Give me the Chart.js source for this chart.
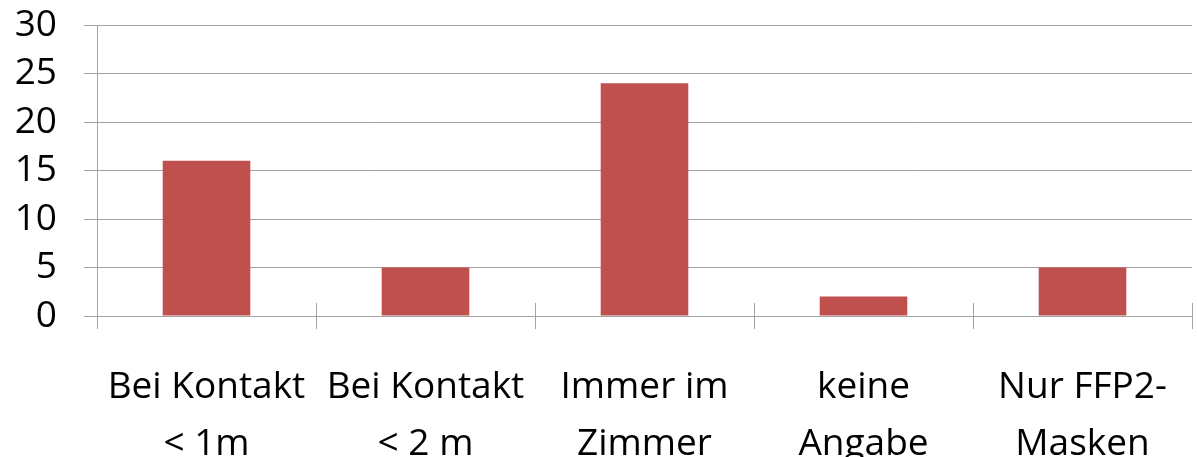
<!DOCTYPE html>
<html>
<head>
<meta charset="utf-8">
<script src="https://cdn.jsdelivr.net/npm/chart.js@4"></script>
<style>
html,body{margin:0;padding:0;background:#fff;}
canvas{display:block;}
</style>
</head>
<body>
<canvas id="c" width="1197" height="457"></canvas>
<script>
const categories = [
  ["Bei Kontakt", "< 1m"],
  ["Bei Kontakt", "< 2 m"],
  ["Immer im", "Zimmer"],
  ["keine", "Angabe"],
  ["Nur FFP2-", "Masken"]
];
const values = [16, 5, 24, 2, 5];
const yMin = 0, yMax = 30, yStep = 5;

const GRID = '#a3a3a3';
const FONT = "'Open Sans', sans-serif";

const crossTicks = {
  id: 'crossTicks',
  afterDraw(chart) {
    const xs = chart.scales.x;
    const ctx = chart.ctx;
    const n = categories.length;
    const w = (xs.right - xs.left) / n;
    ctx.save();
    ctx.strokeStyle = GRID;
    ctx.lineWidth = 1;
    for (let i = 0; i <= n; i++) {
      const x = Math.round(xs.left + i * w) + 0.5;
      ctx.beginPath();
      ctx.moveTo(x, xs.top - 13);
      ctx.lineTo(x, xs.top);
      ctx.stroke();
    }
    ctx.restore();
  }
};

new Chart(document.getElementById('c'), {
  type: 'bar',
  data: {
    labels: categories,
    datasets: [{
      data: values,
      backgroundColor: '#C0504D',
      borderWidth: 0,
      categoryPercentage: 1,
      barPercentage: 0.4
    }]
  },
  options: {
    responsive: false,
    devicePixelRatio: 1,
    animation: false,
    layout: { padding: { top: 25, right: 5, left: 0, bottom: 0 } },
    plugins: { legend: { display: false }, tooltip: { enabled: false } },
    scales: {
      y: {
        min: yMin, max: yMax,
        ticks: { stepSize: yStep, autoSkip: false, color: '#000', font: { family: FONT, size: 37 }, padding: 27 },
        grid: { color: GRID, lineWidth: 1, tickLength: 13 },
        border: { color: GRID, width: 1 },
        afterFit(scale) { scale.width = 97; scale.paddingTop = 0; scale.paddingBottom = 0; }
      },
      x: {
        offset: true,
        grid: { offset: true, drawOnChartArea: false, drawTicks: true, tickLength: 13, color: GRID },
        border: { color: GRID, width: 1 },
        ticks: { color: '#000', font: { family: FONT, size: 37, lineHeight: 1.54 }, padding: 30, maxRotation: 0, autoSkip: false },
        afterFit(scale) { scale.height = 141; scale.paddingLeft = 0; scale.paddingRight = 0; }
      }
    }
  },
  plugins: [crossTicks]
});
</script>
</body>
</html>
